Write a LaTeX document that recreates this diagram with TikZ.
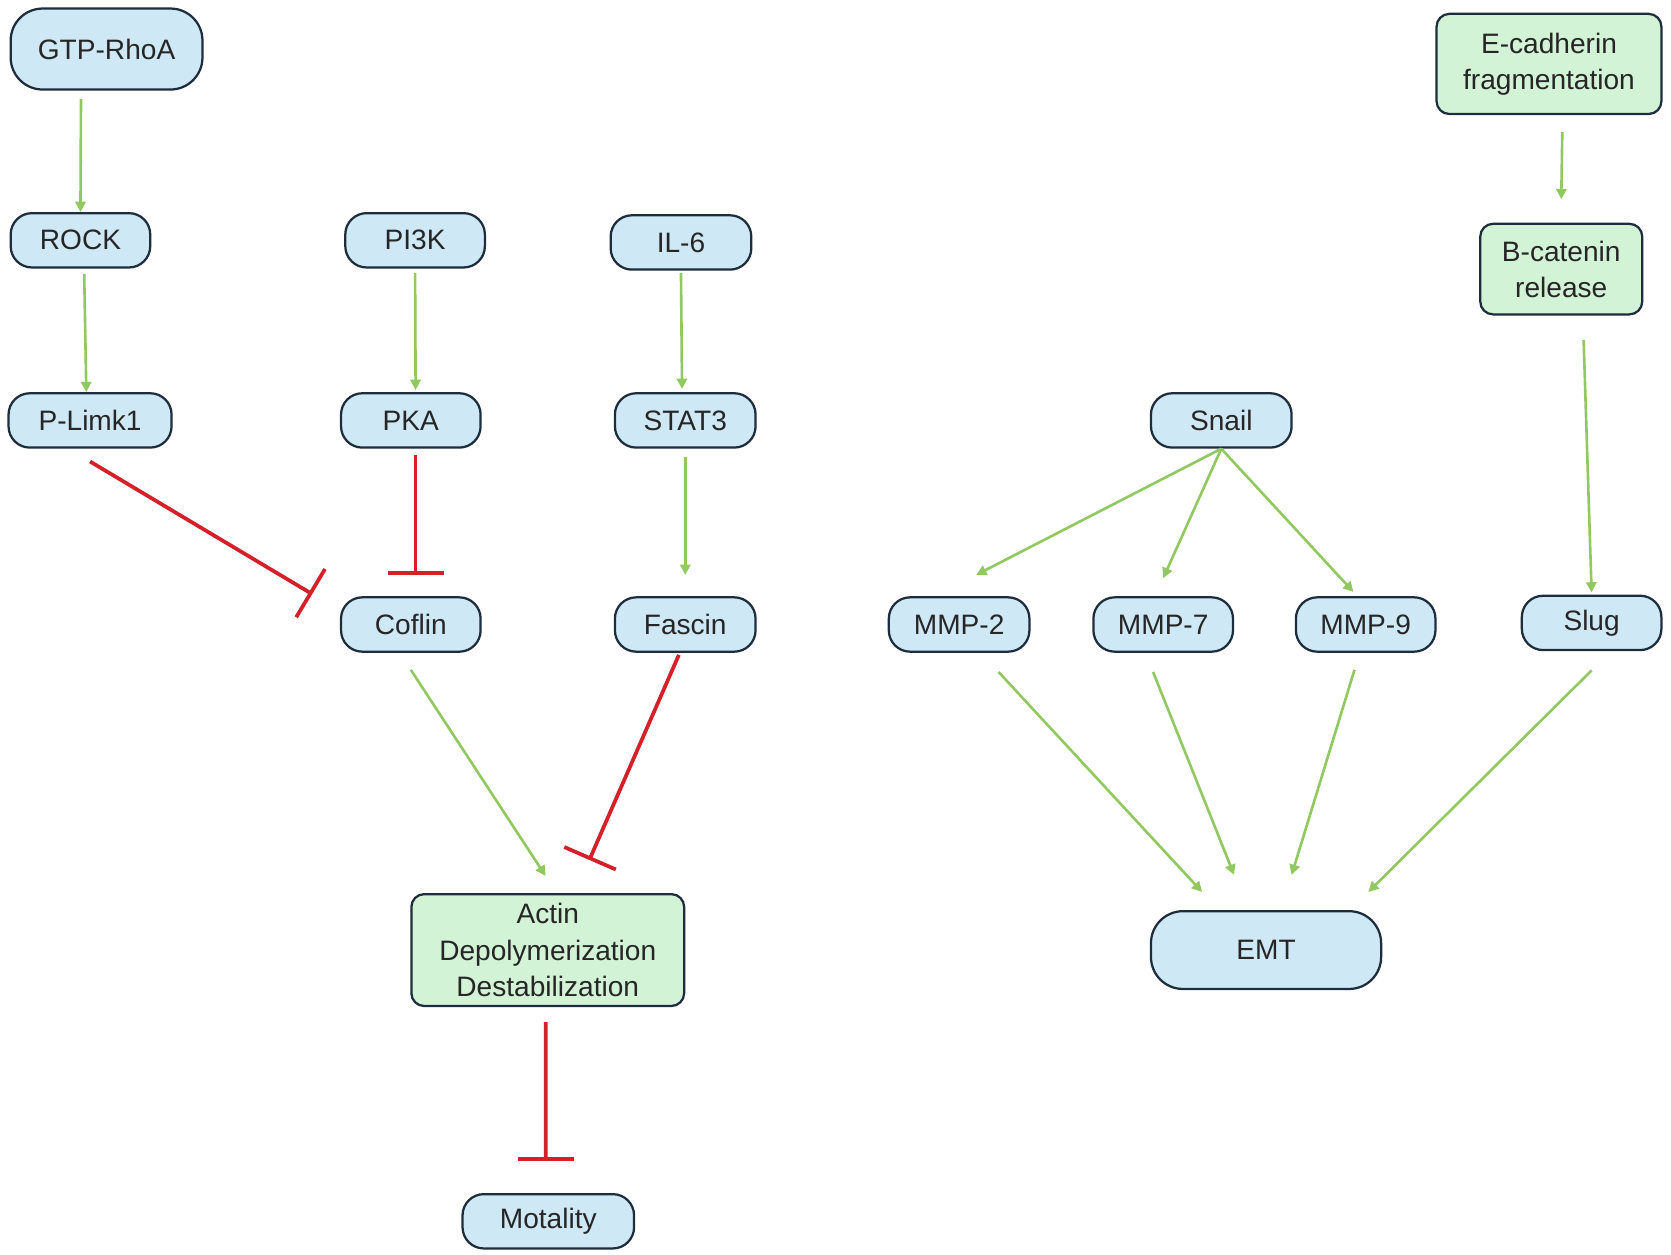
\documentclass[tikz,border=0pt]{standalone}
\usepackage{fontspec}
\setmainfont{Liberation Sans}
\usetikzlibrary{arrows.meta}
\definecolor{pillblue}{RGB}{206,232,246}
\definecolor{boxgreen}{RGB}{210,243,214}
\definecolor{edgenavy}{RGB}{30,45,60}
\definecolor{actgreen}{RGB}{146,200,96}
\definecolor{inhred}{RGB}{212,32,40}
\begin{document}
\begin{tikzpicture}[x=0.02cm,y=-0.02cm,
	pill/.style={draw=edgenavy,fill=pillblue,line width=1.2pt,rounded corners=0.4cm,
		minimum height=1.02cm,minimum width=2.62cm,inner sep=0pt,text=black!85,
		font=\fontsize{15}{19.3}\selectfont},
	greenbox/.style={draw=edgenavy,fill=boxgreen,line width=1.2pt,rounded corners=0.24cm,
		inner sep=0pt,align=center,text=black!85,font=\fontsize{15}{19.3}\selectfont},
	act/.style={draw=actgreen,line width=1.4pt,-{Triangle[length=5.5pt,width=5.5pt]}},
	inh/.style={draw=inhred,line width=2pt,-{Bar[width=30pt]}}]
	\useasboundingbox (0,0) rectangle (1568,1177);
	% left column
	\node[pill,minimum width=3.6cm,minimum height=1.52cm,rounded corners=0.6cm] (gtp) at (100,46) {GTP-RhoA};
	\node[pill] (rock) at (75.5,225.5) {ROCK};
	\node[pill,minimum width=3.06cm] (plimk) at (84.5,394.5) {P-Limk1};
	\node[pill] (pi3k) at (389.5,225.5) {PI3K};
	\node[pill] (pka) at (385.5,394.5) {PKA};
	\node[pill] (coflin) at (385.5,586) {Coflin};
	\node[pill,minimum width=2.64cm] (il6) at (639,227.5) {IL-6};
	\node[pill,minimum width=2.64cm] (stat3) at (643,394.5) {STAT3};
	\node[pill,minimum width=2.64cm] (fascin) at (643,586) {Fascin};
	\node[greenbox,minimum width=5.12cm,minimum height=2.1cm] (actin) at (514,891.5) {Actin\\Depolymerization\\Destabilization};
	\node[pill,minimum width=3.22cm] (motality) at (514.5,1146) {Motality};
	% right column
	\node[greenbox,minimum width=4.22cm,minimum height=1.88cm] (ecad) at (1453.5,60) {E-cadherin\\fragmentation};
	\node[greenbox,minimum width=3.04cm,minimum height=1.7cm] (bcat) at (1465,252.5) {B-catenin\\release};
	\node[pill,minimum width=2.64cm] (snail) at (1146,394.5) {Snail};
	\node[pill,minimum width=2.64cm] (mmp2) at (900,586) {MMP-2};
	\node[pill] (mmp7) at (1091.5,586) {MMP-7};
	\node[pill] (mmp9) at (1281.5,586) {MMP-9};
	\node[pill] (slug) at (1493.5,584.5) {Slug};
	\node[pill,minimum width=4.32cm,minimum height=1.46cm,rounded corners=0.6cm] (emt) at (1188,891.5) {EMT};
	% activation
	\draw[act] ([xshift=-0.48cm,yshift=-0.16cm]gtp.south) -- (rock.north);
	\draw[act] ([xshift=0.07cm,yshift=-0.1cm]rock.south) -- ([xshift=-0.07cm]plimk.north);
	\draw[act] ([yshift=-0.08cm]pi3k.south) -- ([xshift=0.09cm,yshift=0.04cm]pka.north);
	\draw[act] ([yshift=-0.04cm]il6.south) -- ([xshift=-0.06cm,yshift=0.06cm]stat3.north);
	\draw[act] ([yshift=-0.16cm]stat3.south) -- ([yshift=0.4cm]fascin.north);
	\draw[act] ([yshift=-0.32cm]coflin.south) -- ([xshift=-0.04cm,yshift=0.32cm]actin.north);
	\draw[act] ([xshift=0.25cm,yshift=-0.32cm]ecad.south) -- ([yshift=0.44cm]bcat.north);
	\draw[act] ([xshift=0.42cm,yshift=-0.46cm]bcat.south) -- ([yshift=0.04cm]slug.north);
	\draw[act] (snail.south) -- ([xshift=0.32cm,yshift=0.4cm]mmp2.north);
	\draw[act] (snail.south) -- ([yshift=0.34cm]mmp7.north);
	\draw[act] (snail.south) -- ([xshift=-0.23cm,yshift=0.08cm]mmp9.north);
	\draw[act] ([xshift=0.74cm,yshift=-0.36cm]mmp2.south) -- ([xshift=-1.2cm,yshift=0.34cm]emt.north);
	\draw[act] ([xshift=-0.19cm,yshift=-0.36cm]mmp7.south) -- ([xshift=-0.6cm,yshift=0.66cm]emt.north);
	\draw[act] ([xshift=-0.21cm,yshift=-0.32cm]mmp9.south) -- ([xshift=0.48cm,yshift=0.66cm]emt.north);
	\draw[act] ([yshift=-0.36cm]slug.south) -- ([xshift=1.92cm,yshift=0.34cm]emt.north);
	% inhibition
	\draw[inh] ([yshift=-0.24cm]plimk.south) -- ([xshift=-0.52cm,yshift=0.04cm]coflin.north west);
	\draw[inh] ([xshift=0.09cm,yshift=-0.12cm]pka.south) -- ([xshift=0.09cm,yshift=0.4cm]coflin.north);
	\draw[inh] ([xshift=-0.12cm,yshift=-0.04cm]fascin.south) -- ([xshift=0.78cm,yshift=0.62cm]actin.north);
	\draw[inh] ([xshift=-0.04cm,yshift=-0.28cm]actin.south) -- ([xshift=-0.05cm,yshift=0.6cm]motality.north);
\end{tikzpicture}
\end{document}
